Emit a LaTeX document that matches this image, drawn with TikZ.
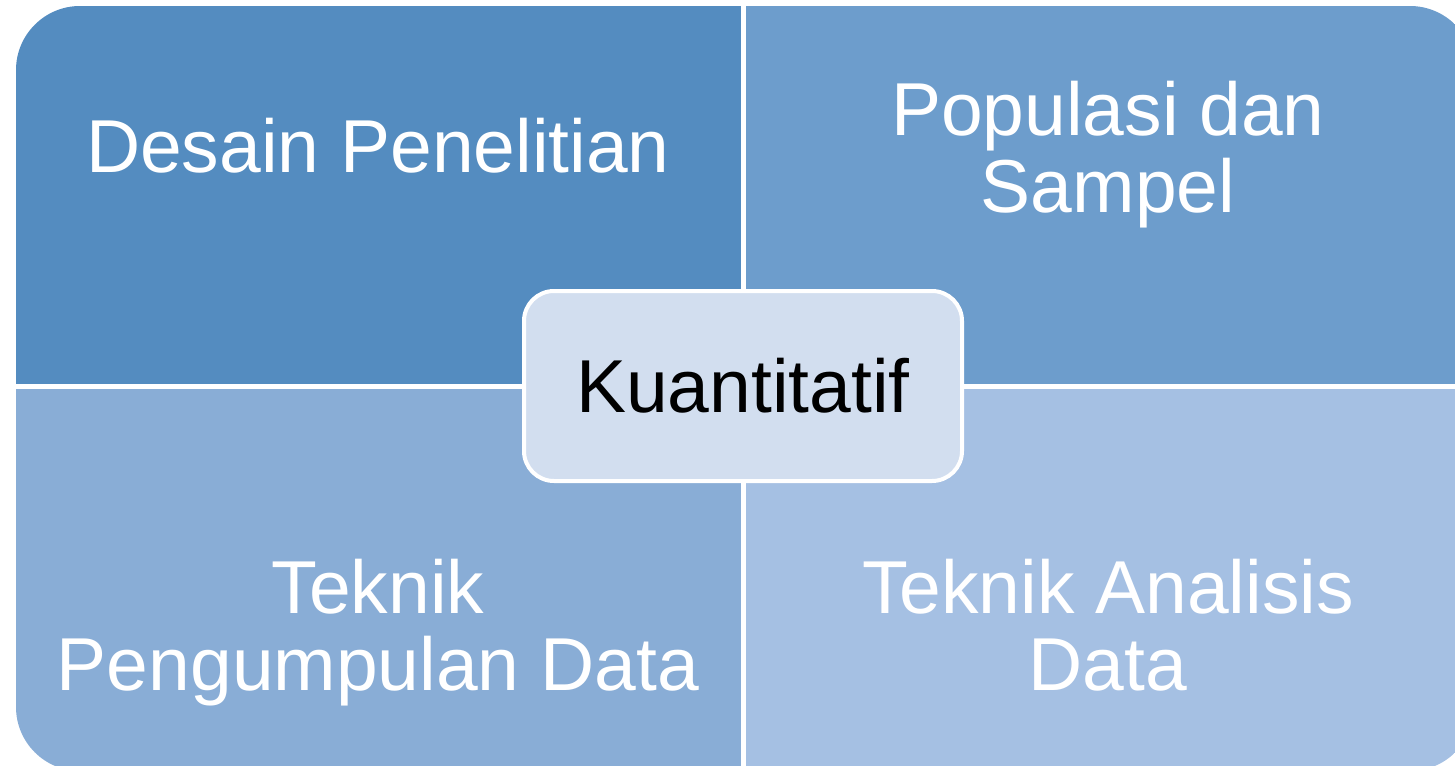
\documentclass[tikz,border=0pt]{standalone}
\usepackage{fontspec}
\setmainfont{Liberation Sans}
\definecolor{qA}{RGB}{84,140,192}
\definecolor{qB}{RGB}{109,157,204}
\definecolor{qC}{RGB}{137,173,214}
\definecolor{qD}{RGB}{165,192,227}
\definecolor{hub}{RGB}{210,222,239}
\tikzset{
  qtext/.style={text=white, font=\fontsize{75}{77}\selectfont, align=center, inner sep=0pt, anchor=base},
  hubbox/.style={fill=hub, draw=white, line width=4pt, rounded corners=30pt, minimum width=438pt, minimum height=190pt, inner sep=0pt, font=\fontsize{75}{77}\selectfont, text=black},
  divider/.style={white, line width=5pt}
}
\begin{document}
\begin{tikzpicture}[x=1pt,y=-1pt]
\useasboundingbox (0,0) rectangle (1455,765);
\begin{scope}
\clip[rounded corners=64pt] (16,6) rectangle (1474,771);
\fill[qA] (16,6) rectangle (743,386);
\fill[qB] (743,6) rectangle (1474,386);
\fill[qC] (16,386) rectangle (743,771);
\fill[qD] (743,386) rectangle (1474,771);
\end{scope}
\coordinate (vt) at (743,0);
\coordinate (vb) at (743,771);
\coordinate (hl) at (16,386);
\coordinate (hr) at (1474,386);
\draw[divider] (vt) -- (vb);
\draw[divider] (hl) -- (hr);
\node[qtext] (desain) at (378,172) {Desain Penelitian};
\node[qtext] (populasi) at (1108,212) {Populasi dan\\Sampel};
\node[qtext] (pengumpulan) at (378,690) {Teknik\\Pengumpulan Data};
\node[qtext] (analisis) at (1108,690) {Teknik Analisis\\Data};
\node[hubbox] (hub) at (743,386) {Kuantitatif};
\end{tikzpicture}
\end{document}
